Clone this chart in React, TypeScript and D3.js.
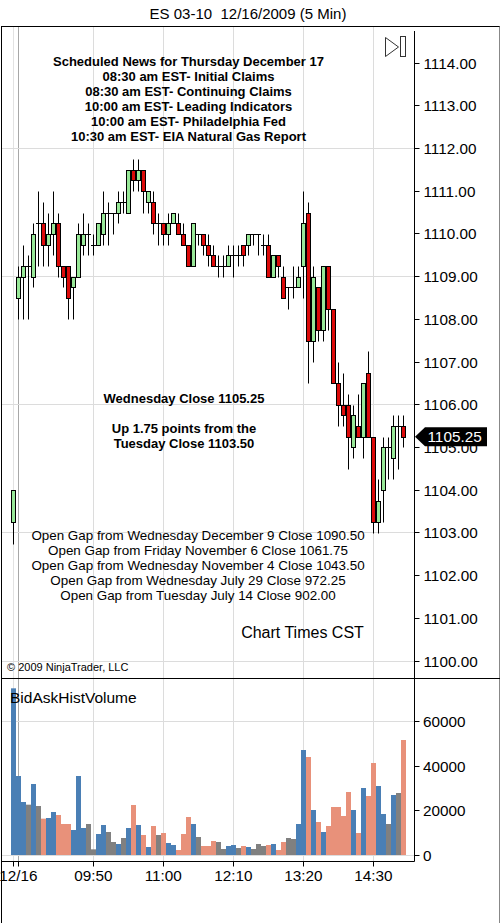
import React from "react";
import * as d3 from "d3";

const W = 502;
const H = 923;
const FONT = '"Liberation Sans", Arial, Helvetica, sans-serif';

// OHLC, 5-minute bars, index 0 = 08:30
const opens = [1103.25,1108.5,1109.0,1109.25,1109.0,1110.25,1110.25,1109.75,1110.0,1110.25,1109.25,1109.25,1108.75,1109.0,1109.75,1110.0,1109.75,1109.75,1110.0,1110.5,1110.5,1110.5,1110.75,1110.5,1111.5,1111.25,1111.5,1110.75,1110.75,1110.25,1110.25,1110.0,1110.25,1110.25,1110.0,1109.75,1109.25,1110.0,1110.0,1109.75,1109.5,1109.25,1109.25,1109.25,1109.5,1109.5,1109.75,1109.75,1110.0,1110.0,1109.75,1109.75,1109.0,1109.5,1109.0,1108.75,1108.75,1108.75,1109.25,1110.5,1107.5,1108.75,1107.75,1109.25,1108.25,1106.5,1106.0,1106.0,1105.0,1105.5,1105.25,1106.75,1105.25,1103.25,1104.0,1105.0,1104.75,1105.5,1105.5];
const highs = [1104.0,1109.25,1109.75,1109.5,1110.25,1111.0,1110.75,1110.5,1111.0,1110.5,1109.25,1109.25,1109.0,1110.25,1110.5,1110.25,1110.0,1110.25,1111.0,1110.75,1110.5,1111.0,1111.0,1111.5,1111.75,1111.75,1111.5,1111.0,1111.0,1110.5,1110.25,1110.5,1110.5,1110.5,1110.25,1109.75,1110.25,1110.0,1110.0,1110.0,1109.75,1109.5,1109.5,1109.75,1109.75,1109.75,1109.75,1110.0,1110.0,1110.0,1110.0,1110.0,1109.5,1109.5,1109.25,1108.75,1109.25,1109.25,1111.0,1110.75,1109.25,1108.75,1109.25,1109.25,1108.25,1107.0,1106.75,1106.25,1106.0,1106.25,1106.5,1107.25,1105.25,1104.25,1105.25,1105.25,1105.75,1105.75,1105.75];
const lows = [1102.75,1108.0,1108.0,1108.0,1108.75,1109.25,1109.25,1109.25,1109.5,1109.0,1108.75,1108.0,1108.0,1109.0,1109.5,1109.5,1109.5,1109.75,1109.75,1109.75,1110.0,1110.25,1110.5,1110.5,1111.0,1111.0,1110.5,1110.5,1110.0,1109.75,1109.75,1109.75,1110.25,1110.0,1109.75,1109.25,1109.25,1109.75,1109.5,1109.25,1109.25,1109.0,1109.0,1109.25,1109.0,1109.25,1109.25,1109.5,1109.75,1109.5,1109.5,1109.0,1109.0,1109.0,1108.5,1108.25,1108.5,1108.75,1108.5,1106.5,1107.0,1107.5,1107.5,1107.75,1106.5,1105.5,1105.5,1104.5,1104.75,1105.25,1104.75,1105.25,1103.0,1103.0,1103.25,1104.25,1104.25,1104.5,1105.0];
const closes = [1104.0,1109.0,1109.25,1109.25,1110.0,1110.25,1109.75,1110.0,1110.25,1109.25,1109.0,1108.5,1109.0,1110.0,1110.0,1110.0,1109.75,1110.25,1110.5,1110.5,1110.5,1110.75,1110.75,1111.5,1111.25,1111.5,1111.0,1111.0,1110.25,1110.25,1110.0,1110.25,1110.5,1110.0,1109.75,1109.25,1110.25,1110.0,1109.75,1109.5,1109.25,1109.25,1109.25,1109.5,1109.5,1109.5,1109.5,1110.0,1110.0,1110.0,1109.75,1109.0,1109.5,1109.25,1108.5,1108.75,1108.75,1109.0,1110.25,1107.5,1109.0,1107.75,1109.25,1108.25,1106.5,1106.0,1105.75,1105.25,1105.75,1105.25,1106.5,1105.25,1103.25,1103.75,1105.0,1105.0,1105.5,1105.5,1105.25];

// BidAskHistVolume: value and side (b = bid/blue, a = ask/salmon, n = neutral/gray)
const volumes = [75000,35550,23850,22650,31950,22050,16350,16650,19350,18000,13950,13950,11250,35550,12150,13950,2550,9450,13500,10350,5850,4950,7650,12150,22500,13500,9000,3600,13050,9000,9900,5400,4500,2250,9450,17100,13950,8100,4050,4050,6300,5850,2700,4050,4500,3150,4050,3600,2700,4950,4050,4500,4950,2250,5850,7650,7200,13950,47250,44100,20250,14850,10350,13050,21600,21600,17550,28350,20250,9900,30150,26550,41400,31050,18450,13950,27000,27900,51750];
const volSides = "bbbnbnabbaaabbbnnbbnnbnbababanabbaaabnaaannbbnabnnnabaannbbababaaaaababaabbnbna".split("");

const timeLabels = ["12/16", "09:50", "11:00", "12:10", "13:20", "14:30"];
const timeIdx = [1, 16, 30, 44, 58, 72];
const priceTicks = [1100, 1101, 1102, 1103, 1104, 1105, 1106, 1107, 1108, 1109, 1110, 1111, 1112, 1113, 1114];
const priceGrid = [1100, 1103, 1106, 1109, 1112];
const volTicks = [0, 20000, 40000, 60000];
const volGrid = [0, 60000];

const newsLines = [
  "Scheduled News for Thursday December 17",
  "08:30 am EST- Initial Claims",
  "08:30 am EST- Continuing Claims",
  "10:00 am EST- Leading Indicators",
  "10:00 am EST- Philadelphia Fed",
  "10:30 am EST- EIA Natural Gas Report",
];
const closeLines = ["Wednesday Close 1105.25", "", "Up 1.75 points from the", "Tuesday Close 1103.50"];
const gapLines = [
  "Open Gap from Wednesday December 9 Close 1090.50",
  "Open Gap from Friday November 6 Close 1061.75",
  "Open Gap from Wednesday November 4 Close 1043.50",
  "Open Gap from Wednesday July 29 Close 972.25",
  "Open Gap from Tuesday July 14 Close 902.00",
];

const sideColor: Record<string, string> = { b: "#4a7fb5", a: "#e8917a", n: "#808080" };

export default function App() {
  const n = closes.length;
  const x = d3.scaleLinear().domain([0, n - 1]).range([13.3, 403.3]);
  const y = d3.scaleLinear().domain([1100, 1114]).range([661, 63]);
  const yv = d3.scaleLinear().domain([0, 60000]).range([855, 721.67]);

  const plotL = 2;
  const plotR = 414.5;
  const mainTop = 26.5;
  const sepY = 678.5;
  const volAxisY = 861.5;
  const snap = (v: number) => Math.floor(v) + 0.5;
  const last = closes[n - 1];
  const ly = y(last);

  return (
    <svg width={W} height={H} style={{ position: "absolute", left: 0, top: 0, background: "#fff" }} fontFamily={FONT}>
      <rect x={0} y={0} width={W} height={H} fill="#fff" />
      {/* title */}
      <text x={248} y={19} textAnchor="middle" fontSize={15} fill="#000" style={{ whiteSpace: "pre" }}>
        {"ES 03-10  12/16/2009 (5 Min)"}
      </text>

      {/* vertical gridlines */}
      {timeIdx.map((ti, k) => (
        <g key={"vg" + k}>
          <line x1={snap(x(ti))} x2={snap(x(ti))} y1={mainTop} y2={sepY} stroke={k === 0 ? "#a8a8a8" : "#dcdcdc"} />
          <line x1={snap(x(ti))} x2={snap(x(ti))} y1={sepY} y2={volAxisY} stroke={k === 0 ? "#a8a8a8" : "#dcdcdc"} />
        </g>
      ))}
      <line x1={snap(x(0))} x2={snap(x(0))} y1={mainTop} y2={volAxisY} stroke="#e2e2e2" />

      {/* horizontal gridlines */}
      {priceGrid.map((p) => (
        <line key={"pg" + p} x1={plotL} x2={plotR} y1={snap(y(p))} y2={snap(y(p))} stroke="#dcdcdc" />
      ))}
      {volGrid.map((v) => (
        <line key={"vgr" + v} x1={plotL} x2={plotR} y1={snap(yv(v))} y2={snap(yv(v))} stroke="#dcdcdc" />
      ))}

      {/* news text */}
      {newsLines.map((t, k) => (
        <text key={"nl" + k} x={188.5} y={65.5 + k * 15} textAnchor="middle" fontSize={13} fontWeight="bold">{t}</text>
      ))}
      {closeLines.map((t, k) => (
        <text key={"cl" + k} x={184} y={402.5 + k * 15} textAnchor="middle" fontSize={13} fontWeight="bold">{t}</text>
      ))}
      {gapLines.map((t, k) => (
        <text key={"gl" + k} x={198} y={539.5 + k * 15} textAnchor="middle" fontSize={13.4}>{t}</text>
      ))}
      <text x={302.5} y={638} textAnchor="middle" fontSize={16}>Chart Times CST</text>
      <text x={7} y={671} fontSize={11}>© 2009 NinjaTrader, LLC</text>

      {/* candles */}
      {closes.map((c, i) => {
        const o = opens[i];
        const cx = snap(x(i));
        const top = Math.round(y(Math.max(o, c))) + 0.5;
        const bot = Math.round(y(Math.min(o, c))) + 0.5;
        const hi = Math.round(y(highs[i])) + 0.5;
        const lo = Math.round(y(lows[i])) + 0.5;
        const up = c > o;
        const doji = c === o;
        return (
          <g key={"c" + i}>
            <line x1={cx} x2={cx} y1={hi} y2={lo} stroke="#000" />
            {doji ? (
              <line x1={cx - 2.5} x2={cx + 2.5} y1={top} y2={top} stroke="#000" />
            ) : (
              <rect x={cx - 2} y={top} width={4} height={bot - top} fill={up ? "#98e898" : "#dc0a0a"} stroke="#000" />
            )}
          </g>
        );
      })}

      {/* volume bars */}
      {volumes.map((v, i) => {
        const x0 = Math.floor(x(i)) - 2;
        const yt = yv(v);
        return <rect key={"v" + i} x={x0} y={yt} width={5} height={yv(0) - yt} fill={sideColor[volSides[i]]} />;
      })}

      <text x={10} y={703} fontSize={15.5}>BidAskHistVolume</text>

      {/* icon */}
      <path d="M385.5,37.5 L385.5,56.5 L398.5,47 Z" fill="#fff" stroke="#333" />
      <rect x={400.5} y={36.5} width={5} height={20} fill="#fff" stroke="#333" />

      {/* frame and axes */}
      <line x1={1.5} x2={1.5} y1={mainTop} y2={H} stroke="#000" />
      <line x1={1} x2={500} y1={mainTop} y2={mainTop} stroke="#000" />
      <line x1={499.5} x2={499.5} y1={mainTop} y2={H} stroke="#888" />
      <line x1={1} x2={500} y1={sepY} y2={sepY} stroke="#000" />
      <line x1={plotR} x2={plotR} y1={31} y2={sepY} stroke="#000" />
      <line x1={plotR} x2={plotR} y1={sepY} y2={volAxisY} stroke="#000" />
      <line x1={1} x2={plotR} y1={volAxisY} y2={volAxisY} stroke="#000" />

      {/* price axis */}
      {priceTicks.map((p) => (
        <g key={"pt" + p}>
          <line x1={plotR} x2={plotR + 5} y1={snap(y(p))} y2={snap(y(p))} stroke="#000" />
          <text x={423.5} y={y(p) + 5.5} fontSize={15.3}>{p.toFixed(2)}</text>
        </g>
      ))}
      {/* last price marker */}
      <path d={`M415,${ly} L425,${ly - 9.5} L487,${ly - 9.5} L487,${ly + 9.5} L425,${ly + 9.5} Z`} fill="#000" />
      <text x={427.5} y={ly + 5.5} fontSize={15.3} fill="#fff">{last.toFixed(2)}</text>

      {/* volume axis */}
      {volTicks.map((v) => (
        <g key={"vt" + v}>
          <line x1={plotR} x2={plotR + 5} y1={snap(yv(v))} y2={snap(yv(v))} stroke="#000" />
          <text x={423} y={yv(v) + 5.5} fontSize={15.3}>{String(v)}</text>
        </g>
      ))}

      {/* time axis */}
      <line x1={snap(x(0))} x2={snap(x(0))} y1={volAxisY} y2={volAxisY + 5} stroke="#000" />
      {timeIdx.map((ti, k) => (
        <g key={"tt" + k}>
          <line x1={snap(x(ti))} x2={snap(x(ti))} y1={volAxisY} y2={volAxisY + 5} stroke="#000" />
          <text x={x(ti)} y={881} textAnchor="middle" fontSize={15.3}>{timeLabels[k]}</text>
        </g>
      ))}
    </svg>
  );
}
